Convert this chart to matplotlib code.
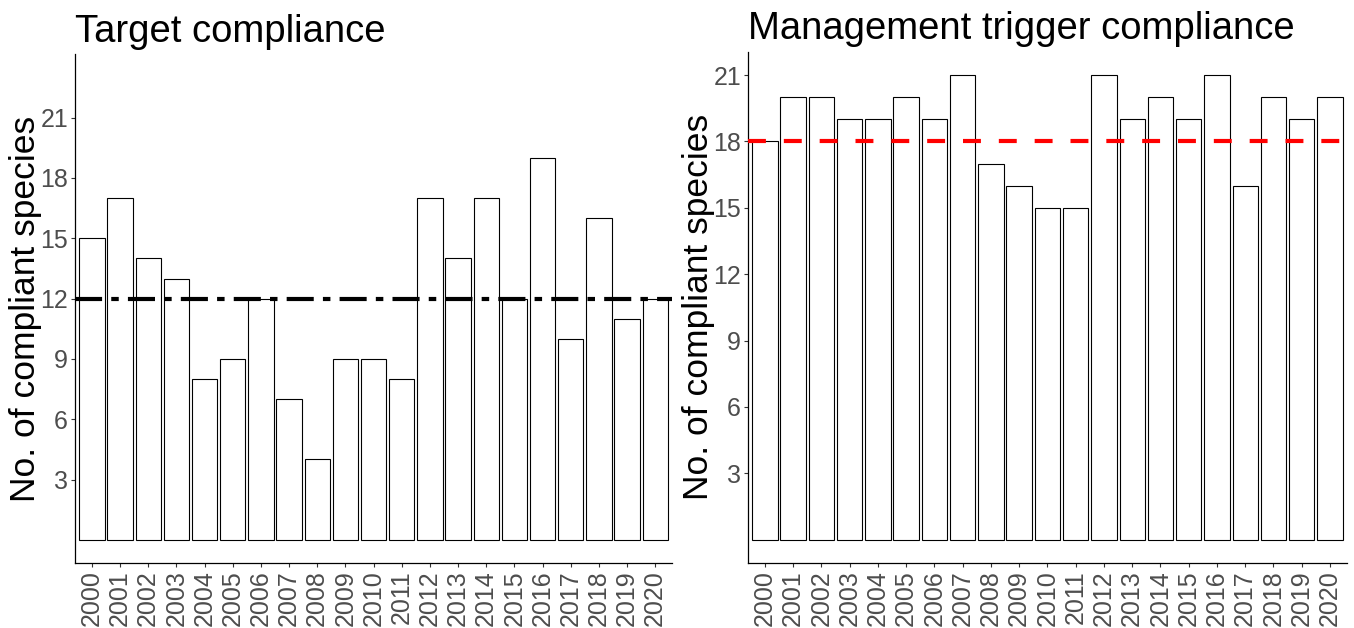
import matplotlib.pyplot as plt
import numpy as np

plt.rcParams['font.family'] = ['Liberation Sans', 'DejaVu Sans']

years = list(range(2000, 2021))
target = [15, 17, 14, 13, 8, 9, 12, 7, 4, 9, 9, 8, 17, 14, 17, 12, 19, 10, 16, 11, 12]
trigger = [18, 20, 20, 19, 19, 20, 19, 21, 17, 16, 15, 15, 21, 19, 20, 19, 21, 16, 20, 19, 20]
target_line = 12
trigger_line = 18
yticks = [3, 6, 9, 12, 15, 18, 21]

fig = plt.figure(figsize=(13.54, 6.28), dpi=100)
ax1 = fig.add_axes([0.0554, 0.1035, 0.441, 0.81])
ax2 = fig.add_axes([0.5524, 0.1035, 0.4424, 0.814])

x = np.arange(len(years))


def style(ax, vals, ylim, title):
    ax.bar(x, vals, width=0.9, color='white', edgecolor='black', linewidth=0.8, zorder=2)
    ax.set_xlim(-0.6, len(years) - 0.4)
    ax.set_ylim(*ylim)
    ax.set_xticks(x)
    ax.set_xticklabels([str(y) for y in years], rotation=90, fontsize=18, color='#4d4d4d')
    ax.set_yticks(yticks)
    ax.set_yticklabels([str(t) for t in yticks], fontsize=18, color='#4d4d4d')
    ax.tick_params(color='#333333', length=3, width=0.8, pad=2)
    for s in ['top', 'right']:
        ax.spines[s].set_visible(False)
    for s in ['left', 'bottom']:
        ax.spines[s].set_linewidth(0.9)
        ax.spines[s].set_color('black')
    ax.set_ylabel('No. of compliant species', fontsize=25.5, labelpad=-1)
    ax.set_title(title, fontsize=27.5, loc='left', pad=9)


style(ax1, target, (-1.15, 24.15), 'Target compliance')
style(ax2, trigger, (-1.05, 22.05), 'Management trigger compliance')

ax1.axhline(target_line, color='black', linewidth=3, dashes=(6.5, 2.2, 1.8, 2.2), zorder=3)
ax2.axhline(trigger_line, color='red', linewidth=3, dashes=(4.3, 4.3), zorder=3)

fig.savefig('out.png', dpi=100)
